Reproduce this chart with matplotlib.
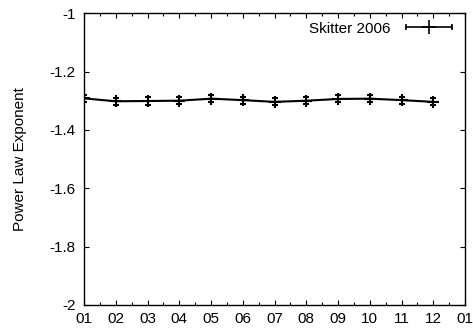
import numpy as np
import matplotlib
matplotlib.use("Agg")
import matplotlib.pyplot as plt
from matplotlib.ticker import MultipleLocator
from matplotlib.lines import Line2D
from matplotlib.legend_handler import HandlerLine2D, HandlerTuple

plt.rcParams['font.family'] = ['Liberation Sans', 'DejaVu Sans']
plt.rcParams['font.size'] = 11

# --- Data ---
months = ['01', '02', '03', '04', '05', '06', '07', '08', '09', '10', '11', '12']
tick_labels = months + ['01']
exponent = [-1.292, -1.302, -1.301, -1.300, -1.293, -1.298, -1.304,
            -1.300, -1.294, -1.293, -1.298, -1.304]
exponent_err = [0.012, 0.012, 0.012, 0.012, 0.012, 0.012, 0.012,
                0.012, 0.012, 0.012, 0.012, 0.012]

x = np.arange(len(months))

fig = plt.figure(figsize=(4.73, 3.29), dpi=100)
ax = fig.add_axes([0.1776, 0.073, 0.8055, 0.887])

ax.errorbar(x, exponent, yerr=exponent_err, color='black', linewidth=1.5,
            marker='+', markersize=8, markeredgewidth=1.5,
            capsize=2, capthick=1.0, elinewidth=1.2)

ax.set_xlim(0, 12)
ax.set_ylim(-2, -1)
ax.set_xticks(np.arange(13))
ax.set_xticklabels(tick_labels)
ax.xaxis.set_minor_locator(MultipleLocator(0.5))
ax.set_yticks(np.arange(-2, -0.99, 0.2))
ax.set_yticklabels(['-2', '-1.8', '-1.6', '-1.4', '-1.2', '-1'])
ax.tick_params(which='both', direction='in', top=True, right=True, colors='black')
ax.tick_params(which='major', length=3.8, width=0.8)
ax.tick_params(which='minor', length=2.2, width=0.8)
ax.tick_params(axis='x', pad=5)
ax.tick_params(axis='y', pad=6)
ax.set_ylabel('Power Law Exponent', labelpad=16)
for s in ax.spines.values():
    s.set_linewidth(1.0)

# gnuplot-style key sample: horizontal bar with end ticks and a cross in the middle
bar = Line2D([], [], color='black', linewidth=1.2, marker='|', markersize=5, markeredgewidth=1.2)
cross = Line2D([], [], color='black', linestyle='none', marker='+', markersize=10, markeredgewidth=1.2)
ax.legend([(bar, cross)], ['Skitter 2006'], loc='upper right', frameon=False,
          handlelength=3.6, handletextpad=0.7, borderaxespad=0.15, markerfirst=False,
          handler_map={bar: HandlerLine2D(numpoints=2), cross: HandlerLine2D(numpoints=1),
                       tuple: HandlerTuple(ndivide=1)})

fig.savefig('out.png', dpi=100)
